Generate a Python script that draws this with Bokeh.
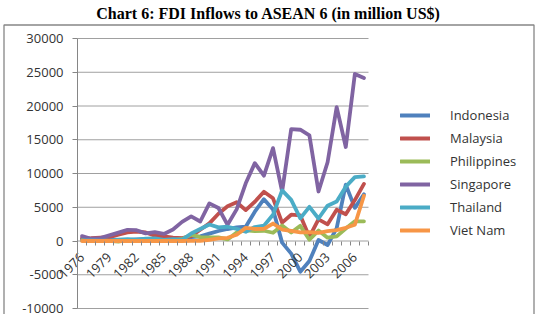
import math
from bokeh.plotting import figure
from bokeh.models import FixedTicker, Legend, LegendItem, NumeralTickFormatter, Range1d
from bokeh.embed import file_html
from bokeh.resources import INLINE

years = list(range(1976, 2008))
x_tick_years = list(range(1976, 2008, 3))
y_ticks = list(range(-10000, 30001, 5000))

countries = ["Indonesia", "Malaysia", "Philippines", "Singapore", "Thailand", "Viet Nam"]
colors = ["#4F81BD", "#C0504D", "#9BBB59", "#8064A2", "#4BACC6", "#F79646"]

indonesia = [344, 235, 279, 226, 180, 133, 225, 292, 222, 310, 258, 385, 576, 682, 1093, 1482,
             1777, 2004, 2109, 4346, 6194, 4678, -241, -1866, -4550, -2977, 145, -597, 1896, 8336, 4914, 6928]
malaysia = [381, 406, 500, 573, 934, 1265, 1397, 1261, 797, 695, 489, 423, 719, 1668, 2611, 4043,
            5138, 5741, 4581, 5815, 7297, 6323, 2714, 3895, 3788, 600, 3203, 2473, 4624, 3966, 6060, 8456]
philippines = [126, 210, 101, 7, -106, 172, 16, 105, 9, 12, 127, 307, 936, 563, 530, 544,
               228, 1238, 1591, 1478, 1517, 1222, 2287, 1247, 2240, 195, 1542, 491, 688, 1854, 2921, 2916]
singapore = [720, 335, 420, 840, 1236, 1660, 1602, 1134, 1302, 1047, 1710, 2836, 3655, 2887, 5575, 4887,
             2400, 4686, 8550, 11535, 9682, 13753, 7314, 16578, 16484, 15649, 7338, 11664, 19828, 13930, 24743, 24137]
thailand = [79, 106, 50, 55, 189, 291, 191, 350, 400, 162, 261, 182, 1105, 1775, 2444, 2014,
            2113, 1804, 1366, 2068, 2271, 3882, 7491, 6091, 3350, 5061, 3335, 5235, 5862, 8048, 9460, 9575]
vietnam = [0, 0, 0, 0, 2, 0, 0, 0, 0, 0, 0, 0, 8, 4, 180, 375,
           474, 926, 1945, 1780, 1803, 2587, 1700, 1484, 1289, 1300, 1200, 1450, 1610, 1954, 2400, 6700]

series = [indonesia, malaysia, philippines, singapore, thailand, vietnam]

# plot area in pixels: x 77..368, y 38 (30000) .. 308 (-10000)
x_lo, x_hi = years[0] - 0.5, years[-1] + 0.5
px_per_year = 291.0 / (x_hi - x_lo)
y_lo, y_hi = y_ticks[0], y_ticks[-1]
units_per_px = (y_hi - y_lo) / 270.0


def xd(px):
    return x_lo + (px - 77) / px_per_year


def yd(py):
    return y_hi + (38 - py) * units_per_px


# frame covers x 1..535, y 22..314
p = figure(width=543, height=314, output_backend="svg", toolbar_location=None,
           x_range=Range1d(xd(1), xd(535)), y_range=Range1d(yd(314), yd(22)),
           min_border_left=1, min_border_right=8, min_border_top=22, min_border_bottom=0)
p.outline_line_color = None
p.background_fill_color = "white"
p.border_fill_color = "white"

p.title.text = "Chart 6: FDI Inflows to ASEAN 6 (in million US$)"
p.title.text_font = "Liberation Serif"
p.title.text_font_size = "16px"
p.title.text_font_style = "bold"
p.title.text_color = "black"
p.title.align = "center"
p.title.offset = 4
p.title.standoff = 1

# outer chart box
p.quad(left=[xd(3.5)], right=[xd(533.5)], top=[yd(24.5)], bottom=[yd(340)],
       fill_color=None, line_color="#868686", line_width=1.3)

# horizontal gridlines over the plot area only
p.segment(x0=[x_lo] * len(y_ticks), x1=[x_hi] * len(y_ticks), y0=y_ticks, y1=y_ticks,
          line_color="#a0a0a0", line_width=1)

renderers = []
for vals, col in zip(series, colors):
    r = p.line(years, vals, line_color=col, line_width=3.8, line_join="round", line_cap="round")
    renderers.append(r)

p.xgrid.visible = False
p.ygrid.visible = False

# x axis along zero
p.xaxis.ticker = FixedTicker(ticks=x_tick_years, minor_ticks=[y - 0.5 for y in years] + [x_hi])
p.xaxis.fixed_location = 0
p.xaxis.bounds = (x_lo, x_hi)
p.xaxis.major_label_orientation = math.pi / 4
p.xaxis.major_tick_line_color = None
p.xaxis.major_tick_out = 0
p.xaxis.major_tick_in = 0
p.xaxis.major_label_standoff = 10
p.xaxis.minor_tick_in = 0
p.xaxis.minor_tick_out = 4
p.xaxis.minor_tick_line_color = "#868686"
p.xaxis.axis_line_color = None
p.xaxis.major_label_text_font = "Open Sans"
p.xaxis.major_label_text_font_size = "13px"
p.xaxis.major_label_text_color = "#333333"

p.yaxis.ticker = FixedTicker(ticks=y_ticks)
p.yaxis.fixed_location = x_lo
p.yaxis.bounds = (y_lo, y_hi)
p.yaxis.formatter = NumeralTickFormatter(format="0")
p.yaxis.major_tick_in = 0
p.yaxis.major_tick_out = 5
p.yaxis.minor_tick_line_color = None
p.yaxis.major_tick_line_color = "#868686"
p.yaxis.axis_line_color = "#868686"
p.yaxis.major_label_standoff = 9
p.yaxis.major_label_text_font = "Open Sans"
p.yaxis.major_label_text_font_size = "13px"
p.yaxis.major_label_text_color = "#333333"

legend = Legend(items=[LegendItem(label=c, renderers=[r]) for c, r in zip(countries, renderers)],
                location=(399, 74), glyph_width=30, glyph_height=20, spacing=3,
                label_standoff=20, padding=0, margin=0, border_line_color=None,
                background_fill_alpha=0, label_text_font="Open Sans",
                label_text_font_size="13px", label_text_color="#333333")
p.add_layout(legend, "center")

open("out.html", "w").write(file_html(p, INLINE))
